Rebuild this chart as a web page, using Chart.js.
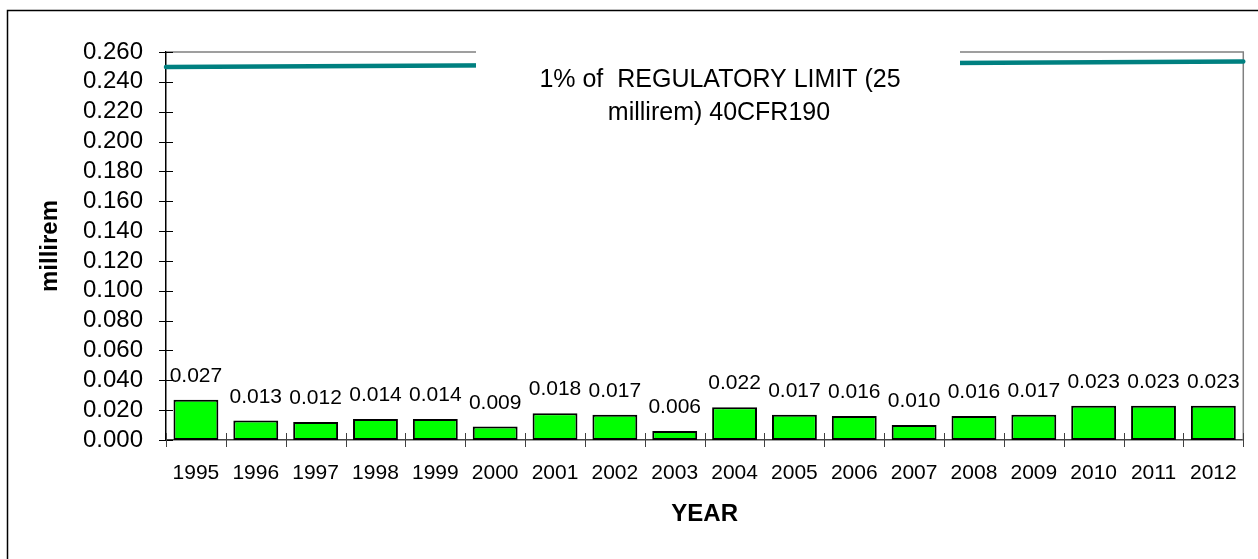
<!DOCTYPE html>
<html>
<head>
<meta charset="utf-8">
<script src="https://cdn.jsdelivr.net/npm/chart.js@4"></script>
<style>
  html, body { margin: 0; padding: 0; background: #fff; overflow: hidden; }
  canvas { display: block; }
</style>
</head>
<body>
<canvas id="chartDose" width="1258" height="559"></canvas>
<script>
const anos = ['1995', '1996', '1997', '1998', '1999', '2000', '2001', '2002', '2003',
              '2004', '2005', '2006', '2007', '2008', '2009', '2010', '2011', '2012'];
const doses = [0.027, 0.013, 0.012, 0.014, 0.014, 0.009, 0.018, 0.017, 0.006,
               0.022, 0.017, 0.016, 0.010, 0.016, 0.017, 0.023, 0.023, 0.023];
// limite (1% de 25 mrem) - linha do inicio ao fim do grafico
const limite = [0.250, 0.2537];
const textoLimite = ['1% of  REGULATORY LIMIT (25', 'millirem) 40CFR190'];

const fonte = '"Liberation Sans", Arial, sans-serif';

const moldura = {
    id: 'moldura',
    beforeDraw(chart) {
        const ctx = chart.ctx;
        ctx.save();
        ctx.strokeStyle = '#000';
        ctx.lineWidth = 1.5;
        ctx.strokeRect(7.5, 10.5, 1400, 700);
        ctx.restore();
    },
    beforeDatasetsDraw(chart) {
        const { ctx, chartArea: a, scales } = chart;
        ctx.save();
        // borda cinza em cima e a direita
        ctx.strokeStyle = '#808080';
        ctx.lineWidth = 1.5;
        ctx.beginPath();
        ctx.moveTo(a.left, a.top);
        ctx.lineTo(a.right, a.top);
        ctx.lineTo(a.right, a.bottom);
        ctx.stroke();
        // marcas do eixo y, cruzando o eixo
        ctx.strokeStyle = '#000';
        ctx.lineWidth = 1;
        scales.y.ticks.forEach(t => {
            const y = Math.round(scales.y.getPixelForValue(t.value)) + 0.5;
            ctx.beginPath();
            ctx.moveTo(a.left - 7, y);
            ctx.lineTo(a.left + 7, y);
            ctx.stroke();
        });
        // marcas do eixo x entre as categorias
        ctx.strokeStyle = '#404040';
        const n = anos.length;
        for (let i = 0; i <= n; i++) {
            const x = Math.round(scales.x.left + i * scales.x.width / n) + 0.5;
            ctx.beginPath();
            ctx.moveTo(x, a.bottom - 7);
            ctx.lineTo(x, a.bottom + 7);
            ctx.stroke();
        }
        ctx.restore();
    },
    afterDatasetsDraw(chart) {
        const ctx = chart.ctx;
        const meta = chart.getDatasetMeta(0);
        ctx.save();
        ctx.fillStyle = '#000';
        ctx.font = '21px ' + fonte;
        ctx.textAlign = 'center';
        ctx.textBaseline = 'alphabetic';
        meta.data.forEach((bar, i) => {
            ctx.fillText(doses[i].toFixed(3), bar.x, bar.y - 18);
        });
        ctx.restore();
    },
    afterDraw(chart) {
        const ctx = chart.ctx;
        ctx.save();
        ctx.fillStyle = '#fff';
        ctx.fillRect(476, 40, 484, 92);
        ctx.fillStyle = '#000';
        ctx.font = '25px ' + fonte;
        ctx.textAlign = 'center';
        ctx.textBaseline = 'alphabetic';
        ctx.fillText(textoLimite[0], 720, 87);
        ctx.fillText(textoLimite[1], 719, 120);
        ctx.restore();
    }
};

new Chart(document.getElementById('chartDose'), {
    data: {
        labels: anos,
        datasets: [{
            type: 'bar',
            label: 'millirem',
            data: doses,
            backgroundColor: '#00ff00',
            borderColor: '#000',
            borderWidth: 2,
            borderSkipped: false,
            grouped: false,
            categoryPercentage: 1,
            barPercentage: 0.75,
            order: 2
        }, {
            type: 'line',
            label: 'limite',
            xAxisID: 'x2',
            data: [{ x: 0, y: limite[0] }, { x: 1, y: limite[1] }],
            borderColor: '#008080',
            borderWidth: 4.5,
            borderCapStyle: 'round',
            pointRadius: 0,
            clip: false,
            order: 1
        }]
    },
    options: {
        responsive: false,
        animation: false,
        layout: { padding: { top: 52, right: 10, left: 0, bottom: 0 } },
        plugins: {
            legend: { display: false },
            tooltip: { enabled: false }
        },
        scales: {
            x: {
                type: 'category',
                grid: { display: false, drawTicks: false },
                border: { display: true, color: '#404040', width: 1.5 },
                ticks: { color: '#000', font: { family: fonte, size: 21 }, padding: 21, maxRotation: 0, autoSkip: false },
                title: {
                    display: true, text: 'YEAR', color: '#000',
                    font: { family: fonte, size: 24, weight: 'bold' },
                    padding: { top: 0, bottom: 30 }
                },
                afterFit: s => { s.height = 119; }
            },
            x2: { type: 'linear', display: false, min: 0, max: 1 },
            y: {
                min: 0,
                max: 0.26,
                grid: { display: false, drawTicks: false },
                border: { display: true, color: '#000', width: 1.5 },
                ticks: {
                    stepSize: 0.02,
                    autoSkip: false,
                    color: '#000',
                    font: { family: fonte, size: 24 },
                    padding: 23,
                    callback: v => v.toFixed(3)
                },
                title: {
                    display: true, text: 'millirem', color: '#000',
                    font: { family: fonte, size: 24, weight: 'bold' },
                    padding: { top: 36, bottom: 0 }
                },
                afterFit: s => { s.width = 166; }
            }
        }
    },
    plugins: [moldura]
});
</script>
</body>
</html>
